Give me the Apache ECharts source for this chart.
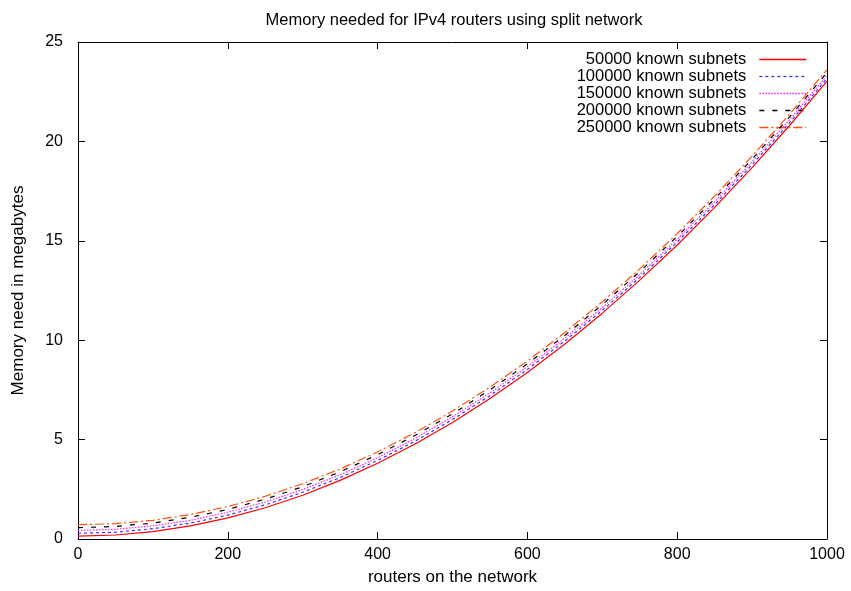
<!DOCTYPE html>
<html>
<head>
<meta charset="utf-8">
<script src="https://cdn.jsdelivr.net/npm/echarts@6/dist/echarts.min.js"></script>
<style>
  html, body { margin: 0; padding: 0; background: #fff; }
  #chart { width: 851px; height: 591px; }
</style>
</head>
<body>
<div id="chart"></div>
<script>
// Routers on the network (x) and memory needed in megabytes (y) per subnet count
const routers = [0, 50, 100, 150, 200, 250, 300, 350, 400, 450, 500,
                 550, 600, 650, 700, 750, 800, 850, 900, 950, 1000];

const subnets50k  = [0.14, 0.20, 0.37, 0.66, 1.06, 1.57, 2.20, 2.95, 3.81, 4.78, 5.86,
                     7.07, 8.38, 9.81, 11.36, 13.02, 14.79, 16.68, 18.68, 20.80, 23.03];
const subnets100k = [0.29, 0.34, 0.52, 0.80, 1.20, 1.72, 2.35, 3.09, 3.95, 4.92, 6.01,
                     7.21, 8.53, 9.96, 11.50, 13.16, 14.94, 16.82, 18.83, 20.94, 23.17];
const subnets150k = [0.43, 0.49, 0.66, 0.94, 1.35, 1.86, 2.49, 3.23, 4.09, 5.06, 6.15,
                     7.35, 8.67, 10.10, 11.64, 13.30, 15.08, 16.97, 18.97, 21.09, 23.32];
const subnets200k = [0.57, 0.63, 0.80, 1.09, 1.49, 2.00, 2.63, 3.38, 4.24, 5.21, 6.29,
                     7.50, 8.81, 10.24, 11.79, 13.45, 15.22, 17.11, 19.11, 21.23, 23.46];
const subnets250k = [0.72, 0.77, 0.94, 1.23, 1.63, 2.15, 2.78, 3.52, 4.38, 5.35, 6.44,
                     7.64, 8.95, 10.39, 11.93, 13.59, 15.36, 17.25, 19.26, 21.37, 23.60];

const seriesNames = ['50000 known subnets', '100000 known subnets', '150000 known subnets',
                     '200000 known subnets', '250000 known subnets'];
const seriesData = [subnets50k, subnets100k, subnets150k, subnets200k, subnets250k];

const lineStyles = [
  { color: '#ff0000', type: 'solid' },
  { color: '#3030ff', type: [3, 3] },
  { color: '#ff20ff', type: [1.5, 1.5] },
  { color: '#000000', type: [5, 8] },
  { color: '#ff5010', type: [9, 3, 2, 3] }
];

const FONT = '"Liberation Sans", Arial, sans-serif';
const FS = 16;

const chart = echarts.init(document.getElementById('chart'), null, { renderer: 'canvas' });

function makeAxis(pos, showLabels, extra) {
  return Object.assign({
    type: 'value',
    position: pos,
    axisLine: { show: true, onZero: false, lineStyle: { color: '#000', width: 1 } },
    axisTick: { show: true, inside: true, length: 7, lineStyle: { color: '#000', width: 1 } },
    axisLabel: { show: showLabels, color: '#000', fontSize: FS, fontFamily: FONT },
    splitLine: { show: false }
  }, extra);
}

chart.setOption({
  backgroundColor: '#fff',
  animation: false,
  title: {
    text: 'Memory needed for IPv4 routers using split network',
    left: 449, top: 7, textAlign: 'center',
    textStyle: { fontSize: 16.5, fontWeight: 'normal', color: '#000', fontFamily: FONT }
  },
  grid: { left: 78, right: 24, top: 42, bottom: 49, containLabel: false },
  legend: {
    orient: 'vertical',
    right: 39, top: 46,
    align: 'right',
    itemWidth: 47, itemHeight: 10, itemGap: 0,
    textStyle: { fontSize: 16.5, lineHeight: 17, color: '#000', fontFamily: FONT,
                 width: 200, align: 'right', padding: [0, 8, 0, 0] },
    data: seriesNames.map((name, i) => ({
      name: name,
      itemStyle: { opacity: 0 },
      lineStyle: { color: lineStyles[i].color, type: lineStyles[i].type, width: 1.3 }
    }))
  },
  xAxis: [
    makeAxis('bottom', true, {
      min: 0, max: 1000, interval: 200,
      axisLabel: { color: '#000', fontSize: FS, fontFamily: FONT, margin: 8,
                   formatter: v => String(v) },
      name: 'routers on the network', nameLocation: 'middle', nameGap: 30,
      nameTextStyle: { fontSize: 17, color: '#000', fontFamily: FONT }
    }),
    makeAxis('top', false, { min: 0, max: 1000, interval: 200 })
  ],
  yAxis: [
    makeAxis('left', true, {
      min: 0, max: 25, interval: 5,
      axisLabel: { color: '#000', fontSize: FS, fontFamily: FONT, margin: 15 },
      name: 'Memory need in megabytes', nameLocation: 'middle', nameGap: 51, nameRotate: 90,
      nameTextStyle: { fontSize: 17, color: '#000', fontFamily: FONT }
    }),
    makeAxis('right', false, { min: 0, max: 25, interval: 5 })
  ],
  series: seriesData.map((vals, i) => ({
    name: seriesNames[i],
    type: 'line',
    xAxisIndex: 0, yAxisIndex: 0,
    data: routers.map((r, j) => [r, vals[j]]),
    showSymbol: false,
    symbol: 'none',
    lineStyle: { color: lineStyles[i].color, type: lineStyles[i].type, width: 1.2 },
    itemStyle: { color: lineStyles[i].color },
    z: 10 - i
  }))
});
</script>
</body>
</html>
